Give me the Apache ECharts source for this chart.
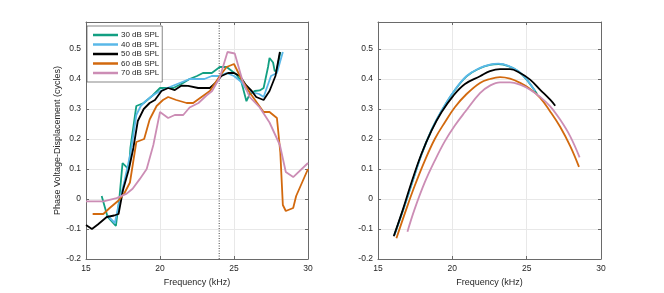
<!DOCTYPE html>
<html><head><meta charset="utf-8">
<script src="https://cdn.jsdelivr.net/npm/echarts@6/dist/echarts.min.js"></script>
<style>html,body{margin:0;padding:0;background:#fff}#c{width:664px;height:293px}</style>
</head><body><div id="c"></div>
<script>
// ---- Data (frequency kHz, phase cycles) ----
const seriesNames = ['30 dB SPL','40 dB SPL','50 dB SPL','60 dB SPL','70 dB SPL'];
const xTicks = [15,20,25,30];
const yTicks = [-0.2,-0.1,0,0.1,0.2,0.3,0.4,0.5];
const markerFreq = 24;

// Left panel: measured
const meas30 = [[16.06,0.01],[16.46,-0.06],[17.02,-0.09],[17.25,0.0],[17.47,0.12],[17.74,0.106],[17.9,0.1],[18.0,0.17],[18.4,0.31],[18.9,0.32],[19.5,0.345],[20.0,0.37],[20.5,0.37],[20.9,0.37],[21.5,0.385],[22.0,0.40],[22.5,0.41],[22.9,0.42],[23.5,0.42],[24.04,0.44],[24.5,0.44],[25.16,0.415],[25.5,0.39],[25.84,0.326],[26.07,0.35],[26.4,0.36],[26.74,0.362],[27.0,0.37],[27.3,0.44],[27.4,0.47],[27.64,0.455],[27.75,0.426],[27.9,0.43],[28.13,0.49]];
const meas40 = [[16.45,-0.055],[16.95,-0.08],[17.2,-0.02],[17.6,0.06],[18.0,0.15],[18.4,0.28],[18.7,0.31],[19.0,0.325],[19.5,0.345],[20.0,0.36],[20.5,0.37],[21.0,0.38],[21.5,0.39],[22.0,0.40],[22.5,0.40],[23.0,0.40],[23.5,0.41],[24.0,0.41],[24.5,0.42],[25.0,0.41],[25.5,0.39],[25.9,0.36],[26.3,0.355],[26.7,0.35],[27.0,0.34],[27.5,0.41],[27.9,0.42],[28.3,0.49]];
const meas50 = [[15.0,-0.087],[15.4,-0.1],[15.8,-0.085],[16.4,-0.06],[16.9,-0.055],[17.2,-0.05],[17.5,0.03],[17.9,0.1],[18.2,0.17],[18.5,0.26],[18.9,0.30],[19.3,0.32],[19.66,0.33],[20.1,0.36],[20.55,0.37],[21.0,0.363],[21.46,0.378],[21.9,0.377],[22.58,0.37],[23.37,0.37],[23.82,0.39],[24.15,0.41],[24.6,0.42],[25.0,0.42],[25.4,0.41],[25.8,0.38],[26.2,0.36],[26.5,0.34],[27.0,0.33],[27.4,0.36],[27.8,0.41],[28.1,0.49]];
const meas60 = [[15.45,-0.05],[16.17,-0.05],[16.6,-0.03],[17.2,-0.005],[17.6,0.02],[17.97,0.055],[18.4,0.19],[18.93,0.2],[19.3,0.265],[19.77,0.31],[20.2,0.33],[20.55,0.34],[21.1,0.33],[21.8,0.32],[22.24,0.32],[23.37,0.36],[24.04,0.41],[24.5,0.44],[25.0,0.45],[25.5,0.40],[26.06,0.355],[27.0,0.29],[27.4,0.29],[27.9,0.27],[28.13,0.155],[28.3,-0.02],[28.5,-0.04],[29.0,-0.03],[29.2,0.01],[30.0,0.1]];
const meas70 = [[15.0,-0.008],[16.17,-0.008],[17.07,0.003],[17.75,0.018],[18.15,0.034],[18.64,0.067],[19.1,0.1],[19.55,0.18],[20.0,0.29],[20.55,0.27],[21.0,0.28],[21.57,0.28],[22.0,0.305],[22.6,0.32],[23.14,0.345],[23.52,0.36],[24.04,0.405],[24.56,0.49],[25.05,0.485],[25.6,0.39],[26.06,0.34],[26.74,0.305],[27.4,0.255],[28.1,0.18],[28.5,0.09],[29.0,0.073],[30.0,0.12]];

// Right panel: fitted curves
const fit30 = [[16.1,-0.12],[16.7,-0.035],[17.3,0.055],[17.9,0.145],[18.6,0.23],[19.27,0.293],[20.06,0.355],[20.96,0.409],[21.86,0.436],[22.53,0.447],[23.1,0.45],[23.77,0.443],[24.45,0.425],[25.01,0.397],[25.7,0.35]];
const fit40 = [[16.1,-0.12],[16.7,-0.035],[17.3,0.055],[17.9,0.145],[18.6,0.23],[19.27,0.294],[20.06,0.356],[20.96,0.41],[21.86,0.437],[22.53,0.448],[23.1,0.451],[23.77,0.444],[24.45,0.426],[25.01,0.398],[25.57,0.359]];
const fit50 = [[16.06,-0.124],[16.69,-0.033],[17.25,0.055],[17.92,0.15],[18.6,0.228],[19.27,0.289],[20.06,0.344],[20.85,0.383],[21.86,0.409],[22.53,0.426],[23.21,0.433],[23.88,0.433],[24.56,0.42],[25.23,0.398],[25.91,0.364],[26.58,0.331],[26.92,0.311]];
const fit60 = [[16.24,-0.131],[16.91,-0.033],[17.47,0.044],[18.15,0.128],[18.82,0.2],[19.5,0.256],[20.17,0.306],[20.96,0.35],[21.86,0.387],[22.53,0.4],[23.21,0.406],[23.88,0.401],[24.56,0.387],[25.23,0.367],[25.91,0.337],[26.58,0.292],[27.26,0.24],[27.93,0.176],[28.52,0.107]];
const fit70 = [[16.98,-0.109],[17.47,-0.033],[18.15,0.056],[18.82,0.128],[19.5,0.193],[20.17,0.245],[20.85,0.29],[21.86,0.353],[22.53,0.378],[23.21,0.389],[23.88,0.389],[24.56,0.381],[25.23,0.364],[25.91,0.34],[26.58,0.309],[27.26,0.264],[27.93,0.209],[28.56,0.139]];

const colors = ['#129f82','#5ab8e8','#000000','#d2690e','#cc8db5'];
const measured = [meas30,meas40,meas50,meas60,meas70];
const fitted = [fit30,fit40,fit50,fit60,fit70];

const FONT = 'Liberation Sans, Arial, sans-serif';
const axisCol = '#6a6a6a';
const textCol = '#262626';
const grids = [
  {left:86, right:356, top:22, bottom:34},
  {left:378, right:63, top:22, bottom:34}
];
const xAxes = [], yAxes = [];
for (let g=0; g<2; g++){
  xAxes.push({gridIndex:g, type:'value', min:15, max:30, interval:5, position:'bottom',
    name:'Frequency (kHz)', nameLocation:'middle', nameGap:15,
    nameTextStyle:{fontFamily:FONT, fontSize:9, color:textCol},
    axisLine:{show:true, onZero:false, lineStyle:{color:axisCol, width:1}},
    axisTick:{show:true, inside:true, length:3, lineStyle:{color:axisCol}},
    axisLabel:{fontFamily:FONT, fontSize:8.5, color:textCol, margin:5,
      formatter:v=> xTicks.includes(v)? String(v) : ''},
    splitLine:{show:true, lineStyle:{color:'#e8e8e8', width:1}}});
  yAxes.push({gridIndex:g, type:'value', min:-0.2, max:0.59, interval:0.1, position:'left',
    name: g===0 ? 'Phase Voltage-Displacement (cycles)' : '', nameLocation:'middle', nameGap:16,
    nameTextStyle:{fontFamily:FONT, fontSize:9, color:textCol},
    axisLine:{show:true, onZero:false, lineStyle:{color:axisCol, width:1}},
    axisTick:{show:true, inside:true, length:3, lineStyle:{color:axisCol}},
    axisLabel:{fontFamily:FONT, fontSize:8.5, color:textCol, margin:5, showMaxLabel:false,
      formatter:v=>{ const r=Math.round(v*10)/10; return yTicks.some(t=>Math.abs(t-r)<1e-9)&&Math.abs(v-r)<1e-6 ? String(r) : ''; }},
    splitLine:{show:true, lineStyle:{color:'#e8e8e8', width:1}}});
}
for (let g=0; g<2; g++){
  xAxes.push({gridIndex:g, type:'value', min:15, max:30, interval:5, position:'top',
    axisLine:{show:true, onZero:false, lineStyle:{color:axisCol, width:1}},
    axisTick:{show:true, inside:true, length:3, lineStyle:{color:axisCol}},
    axisLabel:{show:false}, splitLine:{show:false}});
  yAxes.push({gridIndex:g, type:'value', min:-0.2, max:0.59, interval:0.1, position:'right',
    axisLine:{show:true, onZero:false, lineStyle:{color:axisCol, width:1}},
    axisTick:{show:true, inside:true, length:3, lineStyle:{color:axisCol}},
    axisLabel:{show:false}, splitLine:{show:false}});
}

const series = [];
measured.forEach((d,i)=>series.push({name:seriesNames[i], type:'line', xAxisIndex:0, yAxisIndex:0,
  data:d, showSymbol:false, symbol:'none', lineStyle:{color:colors[i], width:1.8}, itemStyle:{color:colors[i]}, z:2+i, animation:false}));
fitted.forEach((d,i)=>series.push({name:seriesNames[i]+' fit', type:'line', xAxisIndex:1, yAxisIndex:1,
  data:d, smooth:0.4, showSymbol:false, symbol:'none', lineStyle:{color:colors[i], width:1.8}, z:2+i, animation:false}));
series.push({name:'marker', type:'line', xAxisIndex:0, yAxisIndex:0, data:[[markerFreq,-0.2],[markerFreq,0.59]],
  showSymbol:false, symbol:'none', lineStyle:{color:'#444', width:1, type:[1,1.5]}, z:1, animation:false});

const chart = echarts.init(document.getElementById('c'), null, {renderer:'canvas'});
chart.setOption({
  animation:false,
  backgroundColor:'#fff',
  grid: grids,
  xAxis: xAxes,
  yAxis: yAxes,
  legend:{data:seriesNames.map((n,i)=>({name:n, itemStyle:{color:colors[i]}})), orient:'vertical', left:87, top:26,
    icon:'rect', itemWidth:25, itemHeight:2.5, itemGap:1.5,
    backgroundColor:'#fff', borderColor:'#555', borderWidth:0.7, padding:[5,3,5,6],
    textStyle:{fontFamily:FONT, fontSize:8, color:textCol, padding:[0,0,0,-2]}, z:10},
  series: series
});
</script></body></html>
